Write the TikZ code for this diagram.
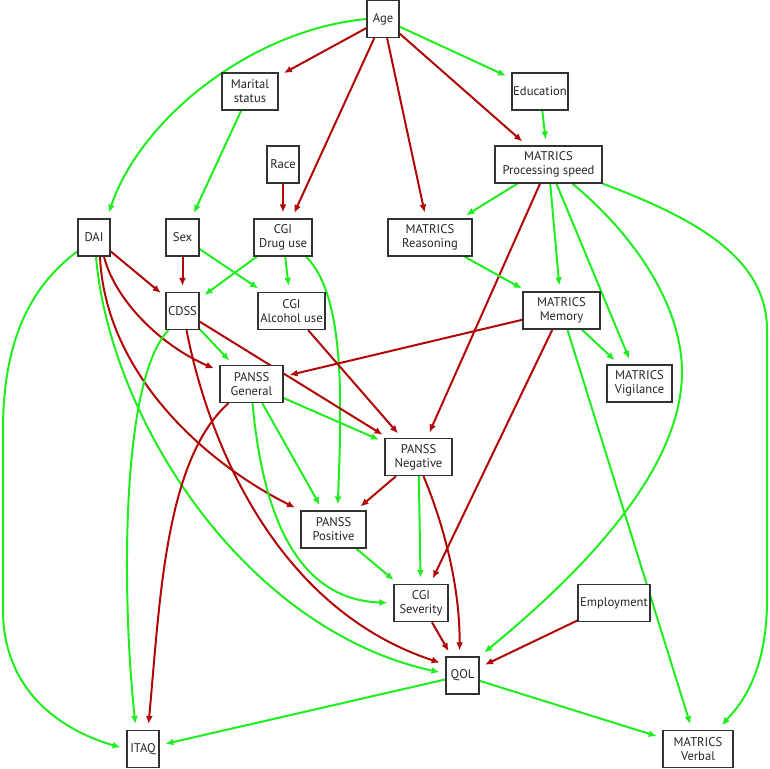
\documentclass[tikz,border=0pt]{standalone}
\usepackage{fontspec}
\setmainfont{PT Sans}
\usetikzlibrary{arrows.meta,backgrounds}
\definecolor{eg}{RGB}{30,238,30}
\definecolor{er}{RGB}{178,6,6}
\definecolor{bx}{RGB}{50,50,50}
\tikzset{
  box/.style={draw=bx, line width=1.3pt, fill=white, minimum height=37pt, inner sep=1pt,
    align=center, font=\fontsize{12.6}{14}\selectfont, text=black!85},
  gline/.style={draw=eg, line width=2pt, -{Latex[length=8pt,width=7pt]}, shorten >=6pt},
  rline/.style={draw=er, line width=2pt, -{Latex[length=8pt,width=7pt]}, shorten >=6pt}
}
\begin{document}
\begin{tikzpicture}[x=1pt,y=-1pt]
\useasboundingbox (0,0) rectangle (770,768);
% nodes
\node[box, minimum width=32pt] (Age) at (383,19) {Age};
\node[box, minimum width=56pt] (Marital) at (250,91.5) {Marital\\status};
\node[box, minimum width=56pt] (Education) at (540,91.5) {Education};
\node[box, minimum width=32pt] (Race) at (283,164.5) {Race};
\node[box, minimum width=107pt] (Proc) at (548.5,164.5) {MATRICS\\Processing speed};
\node[box, minimum width=32pt] (DAI) at (94,237.5) {DAI};
\node[box, minimum width=33pt] (Sex) at (182.5,237.5) {Sex};
\node[box, minimum width=58pt] (Drug) at (283,237.5) {CGI\\Drug use};
\node[box, minimum width=84pt] (Reasoning) at (430,237.5) {MATRICS\\Reasoning};
\node[box, minimum width=33pt] (CDSS) at (182.5,311) {CDSS};
\node[box, minimum width=67pt] (Alcohol) at (291.5,311) {CGI\\Alcohol use};
\node[box, minimum width=77pt] (Memory) at (561.5,310.5) {MATRICS\\Memory};
\node[box, minimum width=63pt] (General) at (251.5,384) {PANSS\\General};
\node[box, minimum width=65pt] (Vigilance) at (639.5,383.5) {MATRICS\\Vigilance};
\node[box, minimum width=67pt] (Negative) at (418.5,457) {PANSS\\Negative};
\node[box, minimum width=65pt] (Positive) at (333.5,529.5) {PANSS\\Positive};
\node[box, minimum width=54pt] (Severity) at (421,603) {CGI\\Severity};
\node[box, minimum width=72pt] (Employment) at (614,603) {Employment};
\node[box, minimum width=33pt] (QOL) at (462.5,675.5) {QOL};
\node[box, minimum width=32pt] (ITAQ) at (143,749) {ITAQ};
\node[box, minimum width=70pt] (Verbal) at (698,749) {MATRICS\\Verbal};
\begin{pgfonlayer}{background}
% from Age
\draw[gline] (Age.west) .. controls (250,30) and (140,120) .. ([xshift=13pt]DAI.north);
\draw[rline] (Age) -- (Marital);
\draw[rline] (Age) -- (Drug);
\draw[rline] (Age) -- (Reasoning);
\draw[rline] (Age) -- (Proc);
\draw[gline] (Age) -- (Education);
\draw[gline] (Marital) -- (Sex);
\draw[gline] (Education) -- (Proc);
\draw[rline] (Race) -- (Drug);
% from Processing speed
\draw[gline] (Proc) -- (Reasoning);
\draw[rline] (Proc) -- (Negative);
\draw[gline] (Proc) -- (Memory);
\draw[gline] (Proc) -- (Vigilance);
\draw[gline] ([xshift=24pt]Proc.south) .. controls (640,240) and (682,310) .. (682,372)
  .. controls (682,480) and (560,590) .. (QOL.north east);
\draw[gline] (Proc.south east) .. controls (700,220) and (767,260) .. (767,330) -- (767,600)
  .. controls (767,680) and (735,710) .. ([xshift=20pt]Verbal.north);
% from DAI
\draw[gline] (DAI.220) .. controls (25,290) and (3,350) .. (3,430) -- (3,610)
  .. controls (3,690) and (60,730) .. (ITAQ.west);
\draw[rline] (DAI) -- (CDSS);
\draw[rline] ([xshift=10pt]DAI.south) .. controls (115,300) and (160,345) .. ([yshift=-6pt]General.north west);
\draw[rline] ([xshift=6pt]DAI.south) .. controls (105,370) and (200,460) .. (Positive.north west);
\draw[gline] ([xshift=2pt]DAI.south) .. controls (110,420) and (245,630) .. ([yshift=2pt]QOL.west);
% from Sex
\draw[rline] (Sex) -- (CDSS);
\draw[gline] (Sex) -- (Alcohol);
% from Drug use
\draw[gline] (Drug) -- (CDSS);
\draw[gline] (Drug) -- (Alcohol);
\draw[gline] ([xshift=23pt]Drug.south) .. controls (345,295) and (342,400) .. ([xshift=4pt]Positive.north);
% from CDSS
\draw[gline] ([xshift=-14pt]CDSS.south) .. controls (120,380) and (122,600) .. ([xshift=-7pt]ITAQ.north);
\draw[gline] (CDSS) -- (General);
\draw[rline] (CDSS) -- (Negative);
\draw[rline] ([xshift=4pt]CDSS.south) .. controls (210,450) and (280,610) .. ([yshift=11pt]QOL.west);
% from Alcohol use
\draw[rline] (Alcohol) -- (Negative);
% from Reasoning
\draw[gline] (Reasoning) -- (Memory);
% from Memory
\draw[rline] (Memory) -- (General);
\draw[rline] (Memory) -- (Severity);
\draw[gline] (Memory) -- (Vigilance);
\draw[gline] (Memory) -- (Verbal);
% from General
\draw[rline] ([xshift=-23pt]General.south) .. controls (165,460) and (160,600) .. ([xshift=5pt]ITAQ.north);
\draw[gline] (General) -- (Negative);
\draw[gline] (General) -- (Positive);
\draw[gline] ([xshift=1pt]General.south) .. controls (265,540) and (310,600) .. (Severity.west);
% from Negative
\draw[rline] (Negative) -- (Positive);
\draw[gline] (Negative) -- (Severity);
\draw[rline] ([xshift=5pt]Negative.south) .. controls (450,540) and (460,600) .. ([xshift=-3pt]QOL.north);
% others
\draw[gline] (Positive) -- (Severity);
\draw[rline] (Severity) -- (QOL);
\draw[rline] (Employment) -- (QOL);
\draw[gline] (QOL) -- (ITAQ);
\draw[gline] (QOL) -- (Verbal);
\end{pgfonlayer}
\end{tikzpicture}
\end{document}
